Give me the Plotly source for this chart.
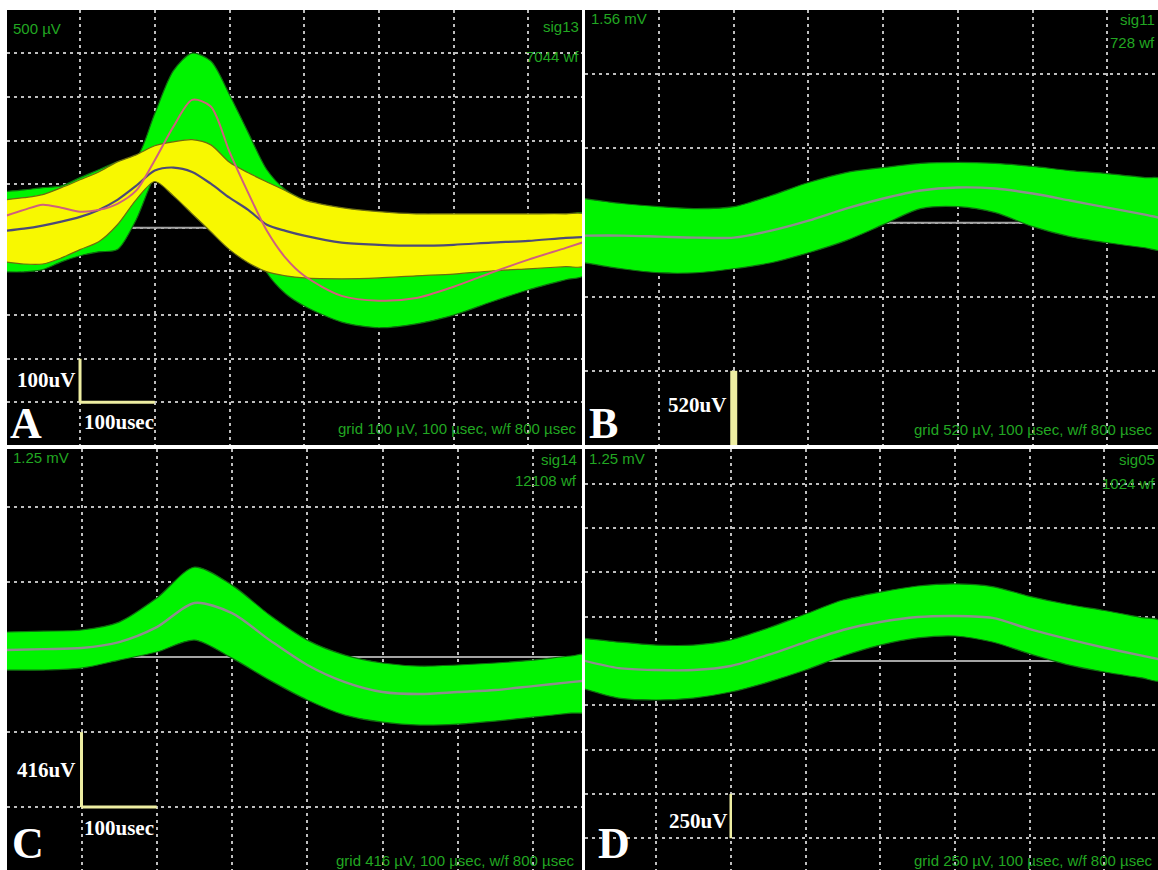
import plotly.graph_objects as go

W, H = 1158, 870

# ---------------- time bases (µs) ----------------
t_a = [0, 25, 50, 75, 100, 125, 150, 175, 200, 225, 250, 275, 300, 325, 350,
       375, 400, 450, 500, 550, 600, 650, 700, 750, 775]
t_s = [0, 50, 100, 150, 200, 250, 300, 350, 400, 450, 500, 550, 600, 650, 700,
       750, 775]

# ---------------- panel A: sig13, two units (µV) ----------------
a1_mean = [27, 41, 53, 46, 37, 41, 55, 85, 155, 232, 293, 278, 174, 80, -7,
           -69, -110, -156, -167, -161, -135, -103, -73, -46, -32]
a1_up = [83, 87, 92, 96, 115, 133, 151, 160, 262, 360, 400, 382, 305, 218, 133,
         87, 64, 41, 30, 23, 18, 18, 23, 30, 32]
a1_lo = [-101, -101, -96, -78, -64, -55, -50, 18, 118, 167, 183, 156, 76, -9,
         -103, -151, -179, -216, -229, -220, -200, -170, -142, -119, -108]

a2_mean = [-7, -2, 5, 14, 25, 41, 64, 96, 131, 138, 128, 101, 69, 41, 7, -7,
           -18, -34, -39, -41, -39, -34, -30, -23, -21]
a2_up = [64, 69, 76, 92, 110, 128, 151, 167, 188, 197, 202, 190, 150, 126, 105,
         85, 64, 46, 37, 32, 32, 32, 32, 32, 30]
a2_lo = [-78, -83, -83, -69, -50, -32, 7, 64, 106, 73, 32, -9, -50, -80, -101,
         -110, -115, -117, -115, -110, -106, -99, -94, -89, -87]

# ---------------- panel B: sig11 (µV) ----------------
b_mean = [-91, -91, -98, -105, -105, -56, 14, 98, 169, 225, 246, 239, 204, 155,
          105, 56, 28]
b_up = [169, 134, 112, 98, 112, 190, 281, 351, 386, 415, 422, 415, 394, 365,
        344, 316, 302]
b_lo = [-281, -323, -351, -351, -323, -281, -211, -126, -14, 98, 112, 70, -28,
        -98, -141, -176, -190]

# ---------------- panel C: sig14 (µV) ----------------
c_mean = [39, 44, 50, 83, 166, 300, 244, 94, -44, -139, -194, -205, -194, -183,
          -161, -139, -128]
c_up = [139, 144, 150, 194, 327, 499, 399, 233, 94, 11, -33, -50, -44, -33,
        -17, 6, 11]
c_lo = [-72, -72, -61, -17, 28, 94, -6, -128, -238, -322, -361, -377, -372,
        -355, -333, -311, -300]

# ---------------- panel D: sig05 (µV) ----------------
d_mean = [6, -40, -51, -51, -28, 34, 107, 175, 220, 248, 254, 243, 180, 125, 75,
          30, 8]
d_up = [130, 107, 90, 90, 119, 186, 265, 344, 389, 423, 435, 420, 365, 320, 285,
        245, 225]
d_lo = [-152, -209, -220, -209, -175, -119, -51, 28, 90, 130, 141, 107, 40, -20,
        -62, -95, -110]

# ---------------- scale bars and header texts ----------------
bar_uV = [100, 520, 416, 250]
bar_us = 100
signals = ["sig13", "sig11", "sig14", "sig05"]
wf_counts = ["7044 wf", "728 wf", "12108 wf", "1024 wf"]
full_scale = ["500 µV", "1.56 mV", "1.25 mV", "1.25 mV"]
grid_uV = [100, 520, 416, 250]
letters = ["A", "B", "C", "D"]

GREEN = "#00f400"
YELLOW = "#f8f800"
TXT_GREEN = "#22a722"
BAR = "#eeeea2"
SERIF = "Liberation Serif"
SANS = "Liberation Sans"

fig = go.Figure()

# subplot geometry in pixels: (left, right, top, bottom)
boxes = [(7, 582, 10, 445), (585, 1158, 10, 445),
         (7, 582, 449, 870), (585, 1158, 449, 870)]
xranges = [[2.3, 771.6], [1.0, 767.6], [1.0, 765.0], [5.0, 771.6]]
yranges = [[-497.7, 499], [-1558, 1490], [-1181, 1154], [-1179, 1196]]
axis_ids = ["", "2", "3", "4"]


def band(t, up, lo, fill, edge, ax):
    xs = list(t) + list(t[::-1])
    ys = list(up) + list(lo[::-1])
    return go.Scatter(x=xs, y=ys, fill="toself", fillcolor=fill, mode="lines",
                      line=dict(color=edge, width=1.2, shape="spline", smoothing=0.8),
                      hoverinfo="skip", showlegend=False,
                      xaxis="x" + ax, yaxis="y" + ax)


def curve(t, v, color, width, ax):
    return go.Scatter(x=t, y=v, mode="lines",
                      line=dict(color=color, width=width, shape="spline", smoothing=0.8),
                      hoverinfo="skip", showlegend=False,
                      xaxis="x" + ax, yaxis="y" + ax)


# zero lines under the waveforms
for i, ax in enumerate(axis_ids):
    fig.add_trace(go.Scatter(x=xranges[i], y=[0, 0], mode="lines",
                             line=dict(color="#a4a4a4", width=2),
                             hoverinfo="skip", showlegend=False,
                             xaxis="x" + ax, yaxis="y" + ax))

# panel A: green unit below, yellow unit above, then both means
fig.add_trace(band(t_a, a1_up, a1_lo, GREEN, "#0f6f0f", ""))
fig.add_trace(band(t_a, a2_up, a2_lo, YELLOW, "#6c6c10", ""))
fig.add_trace(curve(t_a, a2_mean, "#4c4a78", 2.2, ""))
fig.add_trace(curve(t_a, a1_mean, "#d0607e", 2.0, ""))

# panels B, C, D
for ax, (t, up, lo, mn) in zip(["2", "3", "4"],
                               [(t_s, b_up, b_lo, b_mean),
                                (t_s, c_up, c_lo, c_mean),
                                (t_s, d_up, d_lo, d_mean)]):
    fig.add_trace(band(t, up, lo, GREEN, "#0f6f0f", ax))
    fig.add_trace(curve(t, mn, "#8e8e8e", 2.4, ax))

layout = dict(width=W, height=H, margin=dict(l=0, r=0, t=0, b=0),
              paper_bgcolor="white", plot_bgcolor="black", showlegend=False)

for i, ax in enumerate(axis_ids):
    l, r, tp, bt = boxes[i]
    common = dict(showgrid=True, gridcolor="#bdbdbd", gridwidth=1.6,
                  griddash="3px,4px", zeroline=False, showticklabels=False,
                  ticks="", showline=False, fixedrange=True, tick0=0)
    layout["xaxis" + ax] = dict(common, domain=[l / W, r / W], range=xranges[i],
                                dtick=100, anchor="y" + ax)
    layout["yaxis" + ax] = dict(common, domain=[1 - bt / H, 1 - tp / H],
                                range=yranges[i], dtick=grid_uV[i],
                                anchor="x" + ax)

fig.update_layout(**layout)
# black plot areas for every subplot
for i, ax in enumerate(axis_ids):
    l, r, tp, bt = boxes[i]
    fig.add_shape(type="rect", xref="paper", yref="paper", layer="below",
                  x0=l / W, x1=r / W, y0=1 - bt / H, y1=1 - tp / H,
                  fillcolor="black", line=dict(width=0))

# scale bars (data units)
bar_lines = [
    ("", 100, -400, 100, -400 + bar_uV[0], 3),
    ("", 100, -400, 100 + bar_us, -400, 3),
    ("2", 200, yranges[1][0], 200, yranges[1][0] + bar_uV[1], 7),
    ("3", 100, -832, 100, -832 + bar_uV[2], 3),
    ("3", 100, -832, 100 + bar_us, -832, 3),
    ("4", 200, -1000, 200, -1000 + bar_uV[3], 2.5),
]
for ax, x0, y0, x1, y1, w in bar_lines:
    fig.add_shape(type="line", xref="x" + ax, yref="y" + ax,
                  x0=x0, y0=y0, x1=x1, y1=y1, line=dict(color=BAR, width=w))


def label(text, px, py, xanchor, size, color, family, yanchor="middle"):
    fig.add_annotation(text=text, x=px / W, y=1 - py / H, xref="paper",
                       yref="paper", xanchor=xanchor, yanchor=yanchor,
                       showarrow=False, borderpad=0,
                       font=dict(size=size, color=color, family=family))


# green header / footer texts
hdr = [  # (left x, full-scale y, right x, sig y, wf y, footer y)
    (12, 28, 580, 27, 56, 428),
    (590, 18, 1156, 19, 43, 429),
    (12, 457, 578, 459, 480, 860),
    (588, 458, 1156, 459, 484, 860),
]
for i, (lx, fy, rx, sy, wy, gy) in enumerate(hdr):
    label(full_scale[i], lx, fy, "left", 15, TXT_GREEN, SANS)
    label(signals[i], rx, sy, "right", 15, TXT_GREEN, SANS)
    label(wf_counts[i], rx, wy, "right", 15, TXT_GREEN, SANS)
    label(f"grid {grid_uV[i]} µV, {bar_us} µsec, w/f 800 µsec", rx - 2, gy,
          "right", 15, TXT_GREEN, SANS)

# white scale-bar labels and panel letters
label(f"<b>{bar_uV[0]}uV</b>", 76, 380, "right", 21, "white", SERIF)
label(f"<b>{bar_us}usec</b>", 83, 422, "left", 21, "white", SERIF)
label(f"<b>{bar_uV[1]}uV</b>", 727, 405, "right", 21, "white", SERIF)
label(f"<b>{bar_uV[2]}uV</b>", 76, 770, "right", 21, "white", SERIF)
label(f"<b>{bar_us}usec</b>", 83, 828, "left", 21, "white", SERIF)
label(f"<b>{bar_uV[3]}uV</b>", 728, 821, "right", 21, "white", SERIF)

letter_pos = [(9, 424), (588, 424), (11, 843), (597, 843)]
for (lx, ly), s in zip(letter_pos, letters):
    label(f"<b>{s}</b>", lx, ly, "left", 44, "white", SERIF)

fig.write_html("out.html")
